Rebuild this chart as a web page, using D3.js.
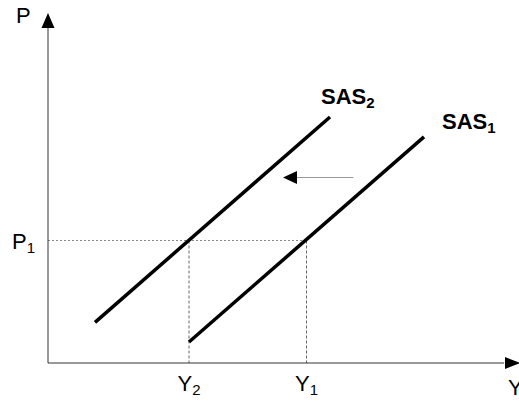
<!DOCTYPE html>
<html>
<head>
<meta charset="utf-8">
<script src="https://cdn.jsdelivr.net/npm/d3@7"></script>
<style>
  body { margin: 0; background: #fff; }
  text { font-family: "Liberation Sans", Arial, sans-serif; }
</style>
</head>
<body>
<div id="chart"></div>
<script>
// curves in abstract output/price units (0..100 on both axes)
const curveNames = ["SAS2", "SAS1"];
const curveX = [[10, 60], [30, 80]];
const curveY = [[11.6, 70.3], [6, 64.6]];

// equilibrium guide values
const priceLevel = 35;
const outputTicks = [30, 55];
const outputLabels = [["Y", "2"], ["Y", "1"]];
const priceLabel = ["P", "1"];

// shift arrow (from -> to)
const shiftX = [65, 50];
const shiftY = 53;

const width = 519, height = 402;

const x = d3.scaleLinear().domain([0, 100]).range([48, 518]);
const y = d3.scaleLinear().domain([0, 100]).range([363, 13]);

const svg = d3.select("#chart")
    .append("svg")
    .attr("width", width)
    .attr("height", height);

// dotted guides
svg.append("line")
    .attr("x1", x(0)).attr("x2", x(outputTicks[1]))
    .attr("y1", y(priceLevel)).attr("y2", y(priceLevel))
    .attr("stroke", "#888").attr("stroke-dasharray", "2,2");

outputTicks.forEach(t => {
    svg.append("line")
        .attr("x1", x(t)).attr("x2", x(t))
        .attr("y1", y(priceLevel)).attr("y2", y(0))
        .attr("stroke", "#666").attr("stroke-dasharray", "3,2");
});

// axes with arrow heads
svg.append("line")
    .attr("x1", x(0)).attr("y1", y(0))
    .attr("x2", x(0)).attr("y2", y(100) + 14)
    .attr("stroke", "#333");
svg.append("path")
    .attr("d", `M${x(0)},${y(100)} L${x(0) - 6.5},${y(100) + 15} L${x(0) + 6.5},${y(100) + 15} Z`)
    .attr("fill", "#000");

svg.append("line")
    .attr("x1", x(0)).attr("y1", y(0))
    .attr("x2", x(100) - 14).attr("y2", y(0))
    .attr("stroke", "#333");
svg.append("path")
    .attr("d", `M${x(100) + 2},${y(0)} L${x(100) - 13},${y(0) - 6} L${x(100) - 13},${y(0) + 6} Z`)
    .attr("fill", "#000");

// SAS curves
const line = d3.line().x(d => x(d[0])).y(d => y(d[1]));
curveNames.forEach((name, i) => {
    const pts = curveX[i].map((v, j) => [v, curveY[i][j]]);
    svg.append("path")
        .attr("d", line(pts))
        .attr("fill", "none")
        .attr("stroke", "#000")
        .attr("stroke-width", 3.5);
});

// curve labels
const labelOffset = [[-9, -13], [18, -8]];
curveNames.forEach((name, i) => {
    const t = svg.append("text")
        .attr("x", x(curveX[i][1]) + labelOffset[i][0])
        .attr("y", y(curveY[i][1]) + labelOffset[i][1])
        .attr("font-size", 22)
        .attr("font-weight", "bold");
    t.append("tspan").text(name.slice(0, 3));
    t.append("tspan").attr("font-size", 15).attr("dy", 4).text(name.slice(3));
});

// shift arrow
svg.append("line")
    .attr("x1", x(shiftX[0])).attr("x2", x(shiftX[1]) + 12)
    .attr("y1", y(shiftY)).attr("y2", y(shiftY))
    .attr("stroke", "#999").attr("stroke-width", 1.2);
svg.append("path")
    .attr("d", `M${x(shiftX[1])},${y(shiftY)} L${x(shiftX[1]) + 14},${y(shiftY) - 6.5} L${x(shiftX[1]) + 14},${y(shiftY) + 6.5} Z`)
    .attr("fill", "#000");

// axis titles
function subLabel(px, py, parts, anchor) {
    const t = svg.append("text")
        .attr("x", px).attr("y", py)
        .attr("font-size", 22)
        .attr("text-anchor", anchor);
    t.append("tspan").text(parts[0]);
    if (parts[1]) t.append("tspan").attr("font-size", 15).attr("dy", 4).text(parts[1]);
}

subLabel(16, 23, ["P"], "start");
subLabel(508, 395, ["Y"], "start");
outputTicks.forEach((t, i) => subLabel(x(t), 391, outputLabels[i], "middle"));
subLabel(35, y(priceLevel) + 8, priceLabel, "end");
</script>
</body>
</html>
